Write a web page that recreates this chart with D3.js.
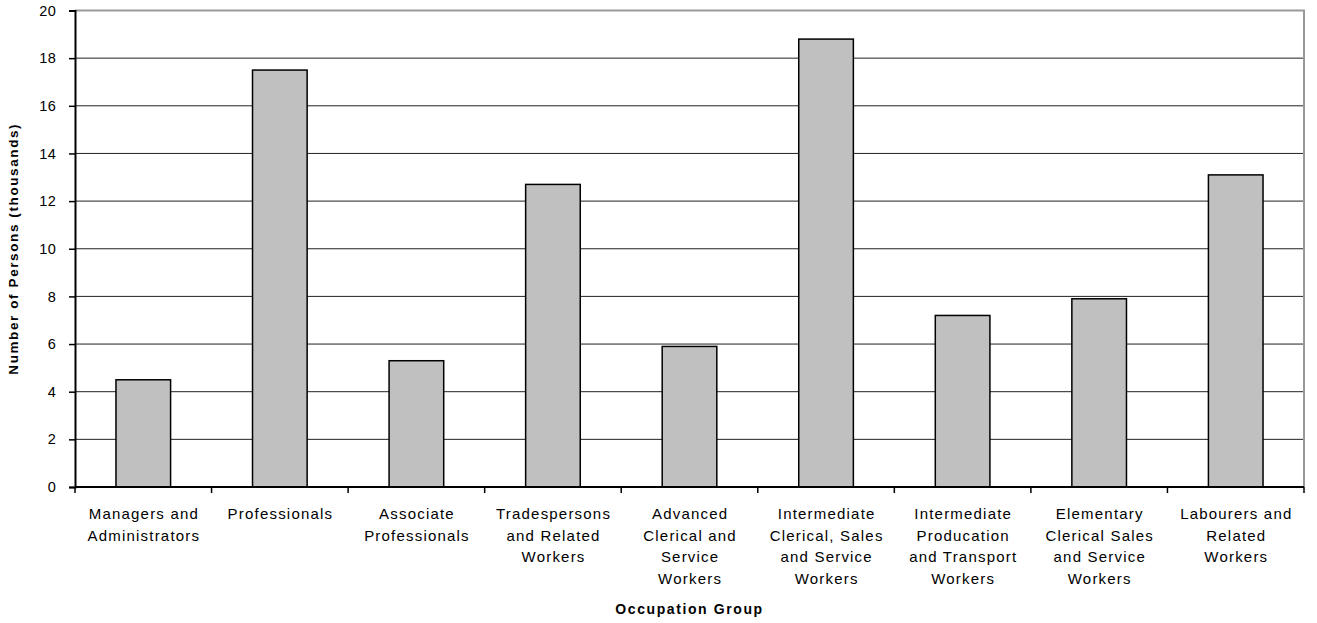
<!DOCTYPE html>
<html>
<head>
<style>
    body { margin: 0; background: #fff; }
    text { font-family: "Liberation Sans", Arial, sans-serif; fill: #000; }
    .grid line { stroke: #222; stroke-width: 1px; }
    .bar { fill: #c0c0c0; stroke: #000; stroke-width: 1.5px; }
    .xlab { font-size: 15px; letter-spacing: 1.2px; }
    .title { font-size: 13.5px; font-weight: bold; letter-spacing: 1.6px; }
</style>
</head>
<body>
<svg width="1317" height="623"></svg>
<script src="https://d3js.org/d3.v7.min.js"></script>
<script>
    // data
    var categories = [
        ["Managers and", "Administrators"],
        ["Professionals"],
        ["Associate", "Professionals"],
        ["Tradespersons", "and Related", "Workers"],
        ["Advanced", "Clerical and", "Service", "Workers"],
        ["Intermediate", "Clerical, Sales", "and Service", "Workers"],
        ["Intermediate", "Producation", "and Transport", "Workers"],
        ["Elementary", "Clerical Sales", "and Service", "Workers"],
        ["Labourers and", "Related", "Workers"]
    ];
    var values = [4.5, 17.5, 5.3, 12.7, 5.9, 18.8, 7.2, 7.9, 13.1];
    var yTicks = [0, 2, 4, 6, 8, 10, 12, 14, 16, 18, 20];

    var margin = { top: 10.5, right: 13, bottom: 136, left: 75 },
        width = 1317 - margin.left - margin.right,
        height = 623 - margin.top - margin.bottom;

    var svg = d3.select("svg")
        .append("g")
        .attr("transform", "translate(" + margin.left + "," + margin.top + ")");

    var x = d3.scaleBand()
        .domain(d3.range(categories.length))
        .range([0, width])
        .paddingInner(0.6)
        .paddingOuter(0.3);

    var y = d3.scaleLinear()
        .domain([0, 20])
        .range([height, 0]);

    // gridlines
    svg.append("g")
        .attr("class", "grid")
        .selectAll("line")
        .data(yTicks.slice(1, -1))
        .enter().append("line")
        .attr("x1", 0).attr("x2", width)
        .attr("y1", function(d) { return y(d); })
        .attr("y2", function(d) { return y(d); });

    // top and right border
    svg.append("path")
        .attr("d", "M0," + y(20) + "H" + width + "V" + y(0))
        .attr("fill", "none")
        .attr("stroke", "#999")
        .attr("stroke-width", 2);

    // bars
    svg.selectAll(".bar")
        .data(values)
        .enter().append("rect")
        .attr("class", "bar")
        .attr("x", function(d, i) { return x(i); })
        .attr("width", x.bandwidth())
        .attr("y", function(d) { return y(d); })
        .attr("height", function(d) { return y(0) - y(d); });

    // y axis
    var yAxis = svg.append("g")
        .call(d3.axisLeft(y).tickValues(yTicks).tickSize(6).tickPadding(13));
    yAxis.select(".domain").attr("stroke", "#000").attr("stroke-width", 2);
    yAxis.selectAll(".tick line").attr("stroke", "#000").attr("stroke-width", 1.5);
    yAxis.selectAll(".tick text")
        .attr("font-family", null)
        .attr("font-size", null)
        .style("font-size", "14.5px")
        .style("letter-spacing", "0.3px");

    // x axis: ticks at band boundaries
    var step = x.step();
    var bounds = d3.range(categories.length + 1).map(function(i) { return x(0) - step * 0.3 + i * step; });
    var xAxis = svg.append("g").attr("transform", "translate(0," + height + ")");
    xAxis.append("line")
        .attr("x1", 0).attr("x2", width)
        .attr("stroke", "#000").attr("stroke-width", 2);
    xAxis.selectAll(".xt")
        .data(bounds)
        .enter().append("line")
        .attr("x1", function(d) { return d; })
        .attr("x2", function(d) { return d; })
        .attr("y1", 0).attr("y2", 6)
        .attr("stroke", "#000").attr("stroke-width", 1.5);

    var labels = xAxis.selectAll(".xlab")
        .data(categories)
        .enter().append("text")
        .attr("class", "xlab")
        .attr("text-anchor", "middle")
        .attr("transform", function(d, i) { return "translate(" + (x(i) + x.bandwidth() / 2 + 0.6) + ",32)"; });
    labels.selectAll("tspan")
        .data(function(d) { return d; })
        .enter().append("tspan")
        .attr("x", 0)
        .attr("y", function(d, j) { return j * 21.5; })
        .text(function(d) { return d; });

    // axis titles
    svg.append("text")
        .attr("class", "title")
        .attr("text-anchor", "middle")
        .style("font-size", "14px")
        .attr("x", width / 2)
        .attr("y", height + 127)
        .text("Occupation Group");

    svg.append("text")
        .attr("class", "title")
        .attr("text-anchor", "middle")
        .attr("transform", "translate(" + (-57) + "," + (height / 2) + ") rotate(-90)")
        .text("Number of Persons (thousands)");
</script>
</body>
</html>
